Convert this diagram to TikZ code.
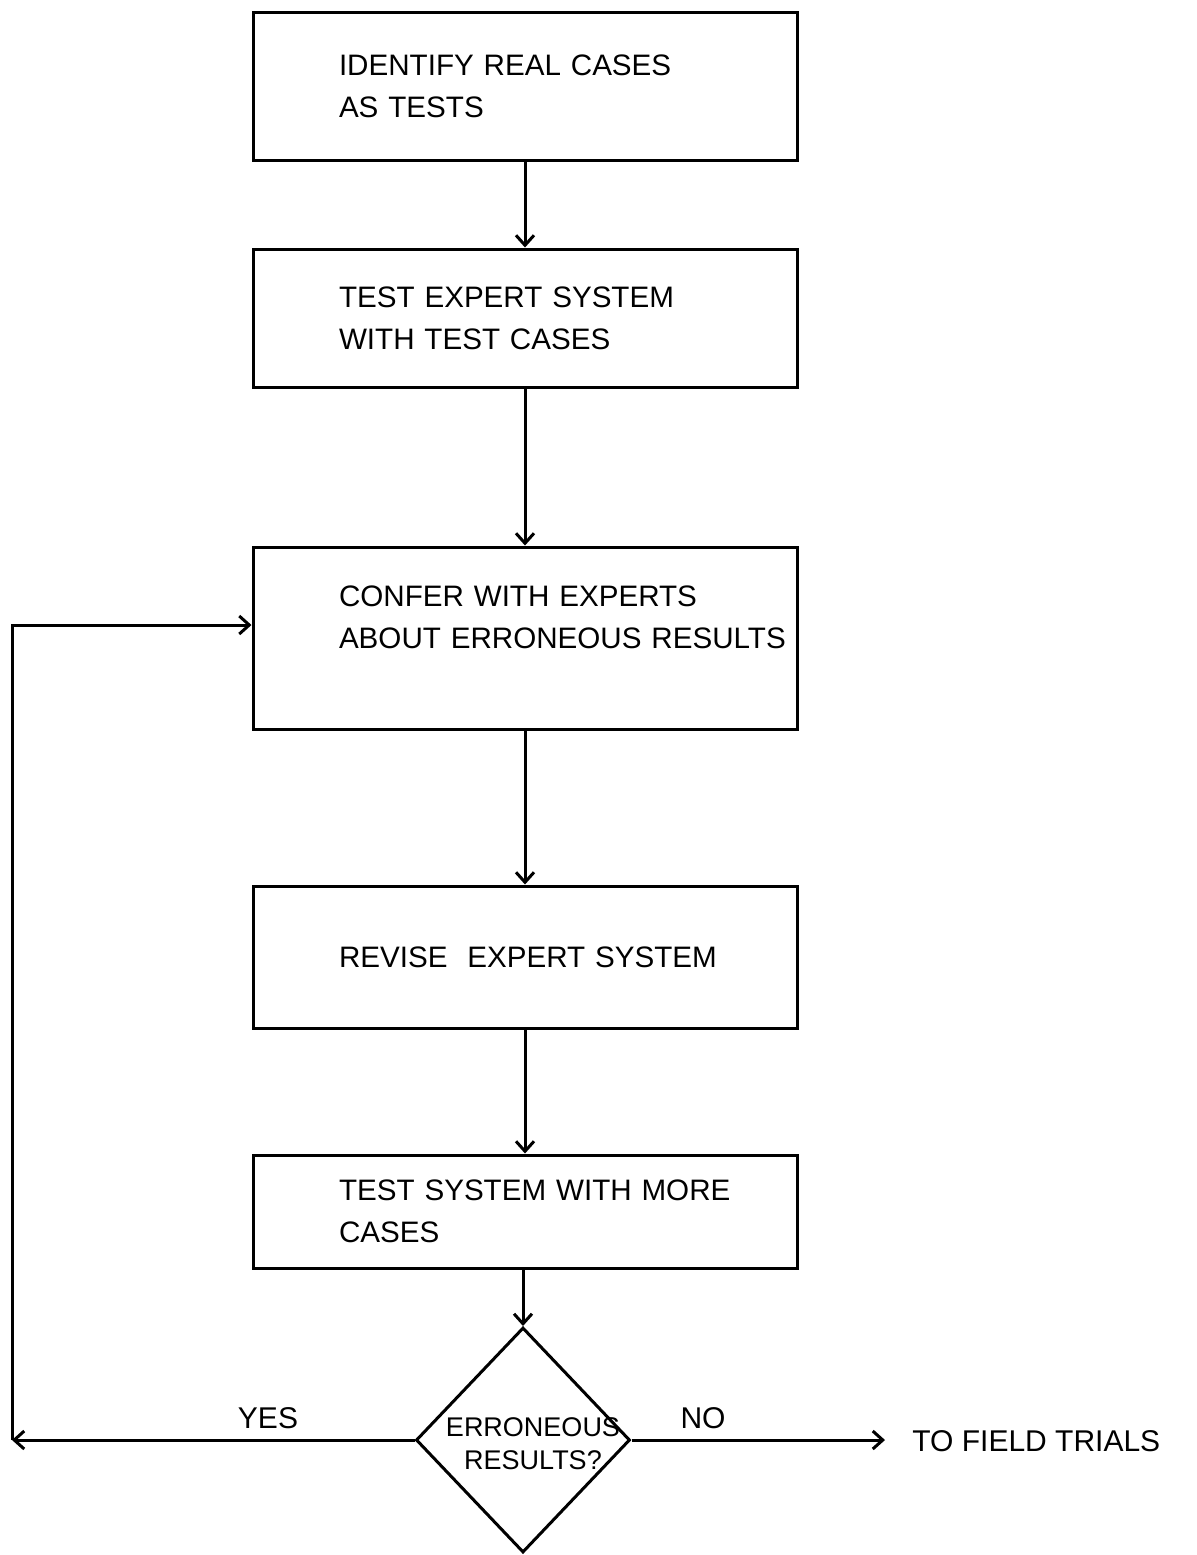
\documentclass[tikz,border=0pt]{standalone}
\usepackage{fontspec}
\setmainfont{Liberation Sans}
\usetikzlibrary{arrows.meta,shapes.geometric}
\newcommand\bxind{\hspace*{43pt}}
\begin{document}
\begin{tikzpicture}[x=0.5pt,y=-0.5pt,
  box/.style={draw, line width=1.5pt, minimum width=272pt, text width=272pt, inner sep=0pt, align=left, font=\fontsize{14.8}{21}\selectfont},
  arr/.style={line width=1.5pt, -{Straight Barb[length=5pt,width=9pt,line width=1.5pt]}},
  lbl/.style={font=\fontsize{15}{21}\selectfont, inner sep=0pt}]
\useasboundingbox (0,0) rectangle (1196,1555);
\node[box, minimum height=74pt] (b1) at (525,86) {\bxind IDENTIFY REAL CASES\\\bxind AS TESTS};
\node[box, minimum height=69pt] (b2) at (525,318) {\bxind TEST EXPERT SYSTEM\\\bxind WITH TEST CASES};
\node[box, minimum height=91pt] (b3) at (525,638) {\bxind CONFER WITH EXPERTS\\\bxind ABOUT ERRONEOUS RESULTS\\\mbox{}};
\node[box, minimum height=71pt] (b4) at (525,957) {\bxind REVISE\ \ EXPERT SYSTEM};
\node[box, minimum height=56.5pt] (b5) at (525,1211.5) {\bxind TEST SYSTEM WITH MORE\\\bxind CASES};
\node[draw, diamond, line width=1.5pt, minimum width=107pt, minimum height=112.5pt, inner sep=0pt,
  label={[name=dq, align=center, inner sep=0pt, xshift=5pt, yshift=-2pt, font=\fontsize{13.5}{16.5}\selectfont]center:ERRONEOUS\\RESULTS?}] (d) at (523,1440) {};
\draw[arr] (b1) -- (b2);
\draw[arr] (b2) -- (b3);
\draw[arr] (b3) -- (b4);
\draw[arr] (b4) -- (b5);
\draw[arr] (b5.south -| d.north) -- (d.north);
\coordinate (cl) at (12,1440);
\coordinate (cu) at (12,625);
\draw[arr] (d.west) -- (cl);
\draw[arr] (cl) -- (cu) -- (b3.west |- cu);
\node[lbl, anchor=west] (tf) at (912,1441) {TO FIELD TRIALS};
\coordinate (tfa) at ([xshift=-13.5pt]tf.west);
\draw[arr] (d.east) -- (d.east -| tfa);
\node[lbl] (yes) at (268,1418) {YES};
\node[lbl] (no) at (703,1418) {NO};
\end{tikzpicture}
\end{document}
